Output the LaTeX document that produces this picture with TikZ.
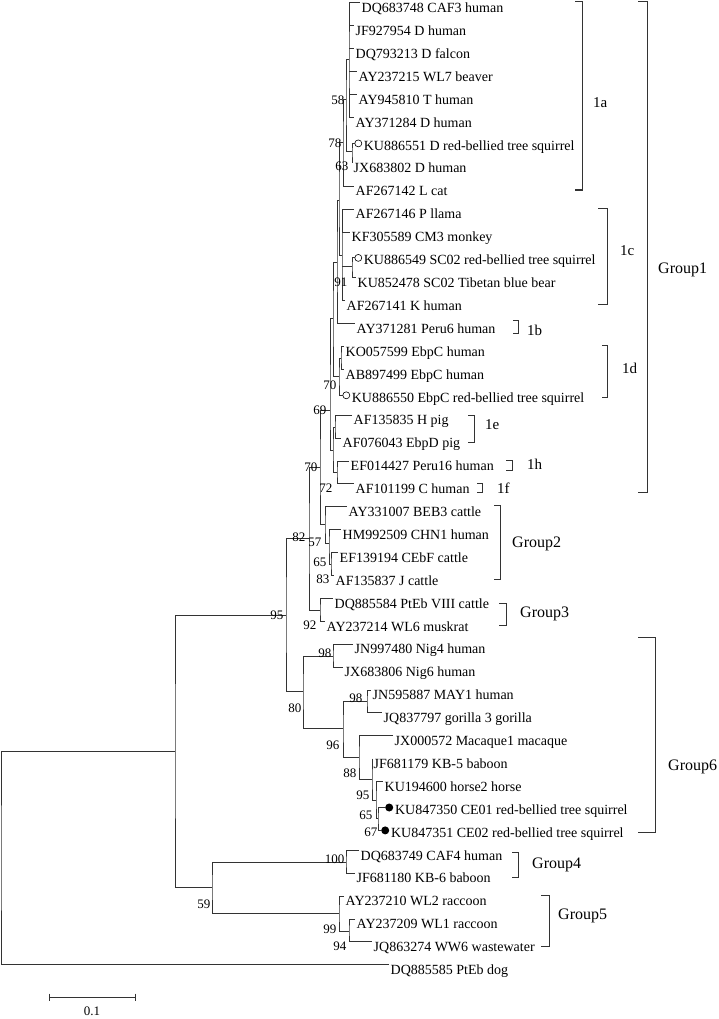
\documentclass[tikz,border=0pt]{standalone}
\usepackage{fontspec}
\setmainfont{Liberation Serif}
\usetikzlibrary{positioning}

\newcommand{\leaffont}{\fontsize{14}{16}\selectfont}
\newcommand{\bsfont}{\fontsize{13}{15}\selectfont}
\newcommand{\subfont}{\fontsize{15}{17}\selectfont}
\newcommand{\grpfont}{\fontsize{16}{18}\selectfont}

\begin{document}
\begin{tikzpicture}[
  x=1pt, y=-1pt,
  br/.style={line width=1pt,draw=black!80},
  brk/.style={line width=1pt,draw=black!80},
  leaf/.style={anchor=north west,inner xsep=1.5pt,inner ysep=0pt,
               text height=9.5pt,text depth=3pt,font=\leaffont},
  mleaf/.style={leaf,yshift=3pt},
  bs/.style={anchor=east,inner sep=0.5pt,font=\bsfont},
  sub/.style={anchor=west,inner sep=0pt,text depth=0pt,font=\subfont},
  grp/.style={anchor=west,inner sep=0pt,text depth=0pt,font=\grpfont},
  ocirc/.style={circle,draw,line width=0.6pt,inner sep=0pt,minimum size=7pt,
                anchor=west,yshift=-3pt},
  fcirc/.style={circle,fill,inner sep=0pt,minimum size=8pt,anchor=west,yshift=-3pt}
]
  \useasboundingbox (0,0) rectangle (718,1019);

  % leaves
  \node[leaf] (l1)  at (360,3.0)   {DQ683748 CAF3 human};
  \node[leaf] (l2)  at (354,25.9)  {JF927954 D human};
  \node[leaf] (l3)  at (354,48.8)  {DQ793213 D falcon};
  \node[leaf] (l4)  at (357,71.7)  {AY237215 WL7 beaver};
  \node[leaf] (l5)  at (357,94.6)  {AY945810 T human};
  \node[leaf] (l6)  at (354,117.5) {AY371284 D human};
  \node[ocirc] (m7) at (354.5,140.4) {};
  \node[mleaf] (l7) at (m7.east)   {KU886551 D red-bellied tree squirrel};
  \node[leaf] (l8)  at (352,163.3) {JX683802 D human};
  \node[leaf] (l9)  at (354,186.2) {AF267142 L cat};
  \node[leaf] (l10) at (354,209.1) {AF267146 P llama};
  \node[leaf] (l11) at (350,232.0) {KF305589 CM3 monkey};
  \node[ocirc] (m12) at (354.5,254.9) {};
  \node[mleaf] (l12) at (m12.east) {KU886549 SC02 red-bellied tree squirrel};
  \node[leaf] (l13) at (356,277.8) {KU852478 SC02 Tibetan blue bear};
  \node[leaf] (l14) at (345,300.7) {AF267141 K human};
  \node[leaf] (l15) at (355,323.6) {AY371281 Peru6 human};
  \node[leaf] (l16) at (344,346.5) {KO057599 EbpC human};
  \node[leaf] (l17) at (344,369.4) {AB897499 EbpC human};
  \node[ocirc] (m18) at (342.5,392.3) {};
  \node[mleaf] (l18) at (m18.east) {KU886550 EbpC red-bellied tree squirrel};
  \node[leaf] (l19) at (352,415.2) {AF135835 H pig};
  \node[leaf] (l20) at (341,438.1) {AF076043 EbpD pig};
  \node[leaf] (l21) at (349,461.0) {EF014427 Peru16 human};
  \node[leaf] (l22) at (354,483.9) {AF101199 C human};
  \node[leaf] (l23) at (347,506.8) {AY331007 BEB3 cattle};
  \node[leaf] (l24) at (341,529.7) {HM992509 CHN1 human};
  \node[leaf] (l25) at (338,552.6) {EF139194 CEbF cattle};
  \node[leaf] (l26) at (334,575.5) {AF135837 J cattle};
  \node[leaf] (l27) at (333,598.4) {DQ885584 PtEb VIII cattle};
  \node[leaf] (l28) at (325,621.3) {AY237214 WL6 muskrat};
  \node[leaf] (l29) at (353,644.2) {JN997480 Nig4 human};
  \node[leaf] (l30) at (343,667.1) {JX683806 Nig6 human};
  \node[leaf] (l31) at (371,690.0) {JN595887 MAY1 human};
  \node[leaf] (l32) at (382,712.9) {JQ837797 gorilla 3 gorilla};
  \node[leaf] (l33) at (393,735.8) {JX000572 Macaque1 macaque};
  \node[leaf] (l34) at (372,758.7) {JF681179 KB-5 baboon};
  \node[leaf] (l35) at (383,781.6) {KU194600 horse2 horse};
  \node[fcirc] (m36) at (385,804.5) {};
  \node[mleaf] (l36) at (m36.east) {KU847350 CE01 red-bellied tree squirrel};
  \node[fcirc] (m37) at (381,827.4) {};
  \node[mleaf] (l37) at (m37.east) {KU847351 CE02 red-bellied tree squirrel};
  \node[leaf] (l38) at (359,850.3) {DQ683749 CAF4 human};
  \node[leaf] (l39) at (355,873.2) {JF681180 KB-6 baboon};
  \node[leaf] (l40) at (344,896.1) {AY237210 WL2 raccoon};
  \node[leaf] (l41) at (355,919.0) {AY237209 WL1 raccoon};
  \node[leaf] (l42) at (372,941.9) {JQ863274 WW6 wastewater};
  \node[leaf] (l43) at (389,964.8) {DQ885585 PtEb dog};

  % inner nodes
  \coordinate (p1a)   at (349,60);
  \coordinate (n63)   at (352,152);
  \coordinate (n58)   at (346,100);
  \coordinate (n78)   at (343,143);
  \coordinate (nsc)   at (352,266);
  \coordinate (n1c)   at (342,255);
  \coordinate (na)    at (339,200);
  \coordinate (nb)    at (337,262);
  \coordinate (nkoab) at (341,358);
  \coordinate (n70u)  at (339,376);
  \coordinate (nx)    at (333,318);
  \coordinate (n1e)   at (335,427);
  \coordinate (n72)   at (337,472);
  \coordinate (ny)    at (333,450);
  \coordinate (n69)   at (330,410);
  \coordinate (n70l)  at (320,467);
  \coordinate (n83)   at (331,564);
  \coordinate (n65g)  at (329,543);
  \coordinate (n57)   at (325,524);
  \coordinate (n92)   at (320,610);
  \coordinate (n82)   at (309,538);
  \coordinate (n98a)  at (333,656);
  \coordinate (n98b)  at (367,701);
  \coordinate (n65c)  at (378,818);
  \coordinate (n95h)  at (376,800);
  \coordinate (n95b)  at (372,779);
  \coordinate (n88)   at (359,757);
  \coordinate (n96)   at (343,728);
  \coordinate (n80)   at (303,691);
  \coordinate (n95)   at (286,615);
  \coordinate (n100)  at (346,862);
  \coordinate (n94)   at (349,931);
  \coordinate (n99)   at (339,913);
  \coordinate (n59)   at (212,887);
  \coordinate (nA)    at (175,751);
  \coordinate (root)  at (1,858);

  % group 1
  \draw[br] (l1.north west) -| (p1a) |- (l6.north west);
  \foreach \k in {2,...,5}
    \draw[br] (p1a |- l\k.north west) -- (l\k.north west);
  \draw[br] (m7.west) -| (n63) |- (l8.north west);
  \draw[br] (p1a) -| (n58) |- (n63);
  \draw[br] (n58) -| (n78) |- (l9.north west);
  \draw[br] (m12.west) -| (nsc) |- (l13.north west);
  \draw[br] (l10.north west) -| (n1c) |- (l14.north west);
  \draw[br] (n1c |- l11.north west) -- (l11.north west);
  \draw[br] (n1c |- nsc) -- (nsc);
  \draw[br] (n78) -| (na) |- (n1c);
  \draw[br] (na) -| (nb) |- (l15.north west);
  \draw[br] (l16.north west) -| (nkoab) |- (l17.north west);
  \draw[br] (nkoab) -| (n70u) |- (m18.west);
  \draw[br] (nb) -| (nx) |- (n70u);
  \draw[br] (l19.north west) -| (n1e) |- (l20.north west);
  \draw[br] (l21.north west) -| (n72) |- (l22.north west);
  \draw[br] (n1e) -| (ny) |- (n72);
  \draw[br] (nx) -| (n69) |- (ny);
  % groups 2 and 3
  \draw[br] (l25.north west) -| (n83) |- (l26.north west);
  \draw[br] (l24.north west) -| (n65g) |- (n83);
  \draw[br] (l23.north west) -| (n57) |- (n65g);
  \draw[br] (n69) -| (n70l) |- (n57);
  \draw[br] (l27.north west) -| (n92) |- (l28.north west);
  \draw[br] (n70l) -| (n82) |- (n92);
  % group 6
  \draw[br] (l29.north west) -| (n98a) |- (l30.north west);
  \draw[br] (l31.north west) -| (n98b) |- (l32.north west);
  \draw[br] (m36.west) -| (n65c) |- (m37.west);
  \draw[br] (l35.north west) -| (n95h) |- (n65c);
  \draw[br] (l34.north west) -| (n95b) |- (n95h);
  \draw[br] (l33.north west) -| (n88) |- (n95b);
  \draw[br] (n98b) -| (n96) |- (n88);
  \draw[br] (n98a) -| (n80) |- (n96);
  \draw[br] (n82) -| (n95) |- (n80);
  % groups 4 and 5, root
  \draw[br] (l38.north west) -| (n100) |- (l39.north west);
  \draw[br] (l41.north west) -| (n94) |- (l42.north west);
  \draw[br] (l40.north west) -| (n99) |- (n94);
  \draw[br] (n100) -| (n59) |- (n99);
  \draw[br] (n95) -| (nA) |- (n59);
  \draw[br] (nA) -| (root) |- (l43.north west);

  % bootstrap values
  \node[bs] (b58)  at (345,100) {58};
  \node[bs] (b78)  at (342,143) {78};
  \node[bs] (b63)  at (349,166) {63};
  \node[bs] (b91)  at (348,282) {91};
  \node[bs] (b70a) at (337,385) {70};
  \node[bs] (b69)  at (327,410) {69};
  \node[bs] (b70b) at (318,467) {70};
  \node[bs] (b72)  at (333,488) {72};
  \node[bs] (b82)  at (306,537) {82};
  \node[bs] (b57)  at (322,542) {57};
  \node[bs] (b65a) at (327,562) {65};
  \node[bs] (b83)  at (330,579) {83};
  \node[bs] (b95a) at (284,615) {95};
  \node[bs] (b92)  at (317,625) {92};
  \node[bs] (b98a) at (332,653) {98};
  \node[bs] (b98b) at (363,698) {98};
  \node[bs] (b80)  at (302,708) {80};
  \node[bs] (b96)  at (340,745) {96};
  \node[bs] (b88)  at (357,773) {88};
  \node[bs] (b95b) at (370,795) {95};
  \node[bs] (b65b) at (373,815) {65};
  \node[bs] (b67)  at (378,832) {67};
  \node[bs] (b100) at (345,859) {100};
  \node[bs] (b59)  at (211,904) {59};
  \node[bs] (b99)  at (337,929) {99};
  \node[bs] (b94)  at (347,946) {94};

  % subgroup brackets
  \draw[brk] (575,2) -- (582,2) -- (582,190) -- (575,190);
  \node[sub] (s1a) at (593,103) {1a};
  \draw[brk] (598,208) -- (607,208) -- (607,304) -- (598,304);
  \node[sub] (s1c) at (620,251) {1c};
  \draw[brk] (513,320) -- (518,320) -- (518,333) -- (513,333);
  \node[sub] (s1b) at (527,330) {1b};
  \draw[brk] (602,345) -- (607,345) -- (607,397) -- (602,397);
  \node[sub] (s1d) at (622,368) {1d};
  \draw[brk] (468,415) -- (474,415) -- (474,442) -- (468,442);
  \node[sub] (s1e) at (485,425) {1e};
  \draw[brk] (506,460) -- (512,460) -- (512,470) -- (506,470);
  \node[sub] (s1h) at (527,464) {1h};
  \draw[brk] (477,483) -- (482,483) -- (482,492) -- (477,492);
  \node[sub] (s1f) at (497,488) {1f};

  % group brackets
  \draw[brk] (638,2) -- (647,2) -- (647,492) -- (638,492);
  \node[grp] (g1) at (658,268) {Group1};
  \draw[brk] (494,505) -- (500,505) -- (500,579) -- (494,579);
  \node[grp] (g2) at (512,542) {Group2};
  \draw[brk] (499,603) -- (506,603) -- (506,625) -- (499,625);
  \node[grp] (g3) at (520,612) {Group3};
  \draw[brk] (638,637) -- (655,637) -- (655,832) -- (638,832);
  \node[grp] (g6) at (668,765) {Group6};
  \draw[brk] (512,852) -- (518,852) -- (518,877) -- (512,877);
  \node[grp] (g4) at (532,863) {Group4};
  \draw[brk] (541,895) -- (549,895) -- (549,946) -- (541,946);
  \node[grp] (g5) at (558,914) {Group5};

  % scale bar
  \coordinate (sa) at (49,997);
  \coordinate (sb) at (135,997);
  \draw[br] (sa) -- (sb);
  \draw[br] ([yshift=3.5pt]sa) -- ([yshift=-3.5pt]sa);
  \draw[br] ([yshift=3.5pt]sb) -- ([yshift=-3.5pt]sb);
  \node[bs,anchor=north] (sl) at (92,1006) {0.1};
\end{tikzpicture}
\end{document}
